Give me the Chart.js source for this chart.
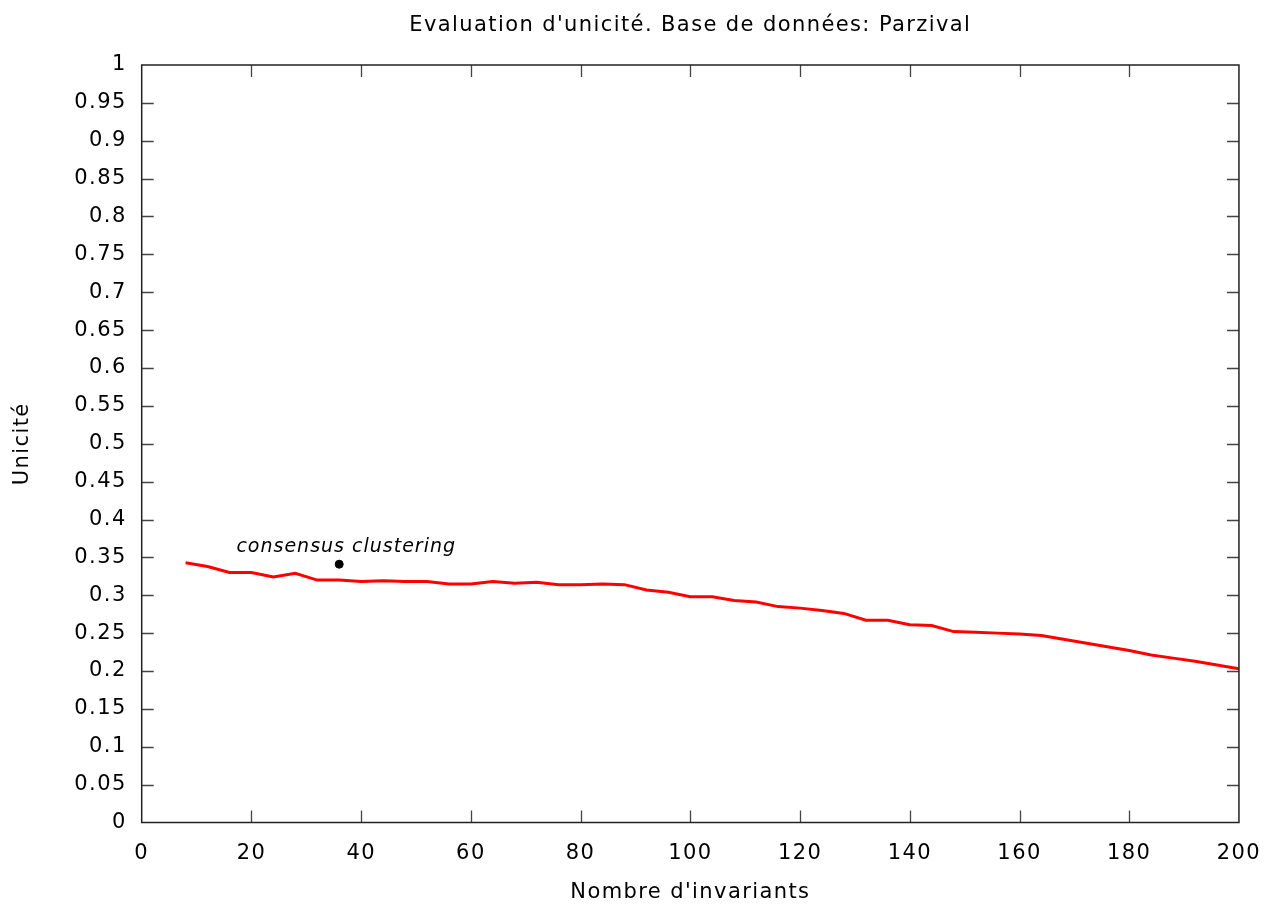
<!DOCTYPE html>
<html lang="fr">
<head>
<meta charset="UTF-8">
<title>Evaluation d'unicité</title>
<style>
  html, body { margin: 0; padding: 0; background: #fff; overflow: hidden; }
  #unicite { display: block; }
</style>
</head>
<body>
<canvas id="unicite" width="1277" height="906"></canvas>
<script src="https://cdn.jsdelivr.net/npm/chart.js"></script>
<script>
  // donnees
  var invariants = [8, 12, 16, 20, 24, 28, 32, 36, 40, 44, 48, 52, 56, 60, 64, 68, 72, 76, 80, 84, 88, 92, 96, 100,
    104, 108, 112, 116, 120, 124, 128, 132, 136, 140, 144, 148, 152, 156, 160, 164, 168, 172, 176, 180, 184, 188, 192, 196, 200];
  var unicite = [0.343, 0.338, 0.330, 0.330, 0.324, 0.329, 0.320, 0.320, 0.318, 0.319, 0.318, 0.318, 0.315, 0.315,
    0.318, 0.316, 0.317, 0.314, 0.314, 0.315, 0.314, 0.307, 0.304, 0.298, 0.298, 0.293, 0.291, 0.285, 0.283, 0.280,
    0.276, 0.267, 0.267, 0.261, 0.260, 0.252, 0.251, 0.250, 0.249, 0.247, 0.242, 0.237, 0.232, 0.227, 0.221, 0.217,
    0.213, 0.208, 0.203];
  var consensusX = [36];
  var consensusY = [0.341];
  var consensusLabel = "consensus clustering";
  var titre = "Evaluation d'unicité. Base de données: Parzival";
  var xTicks = [0, 20, 40, 60, 80, 100, 120, 140, 160, 180, 200];
  var yTicks = [0, 0.05, 0.1, 0.15, 0.2, 0.25, 0.3, 0.35, 0.4, 0.45, 0.5, 0.55, 0.6, 0.65, 0.7, 0.75, 0.8, 0.85, 0.9, 0.95, 1];

  var police = "'DejaVu Sans', Verdana, sans-serif";
  var couleurTexte = "#000";

  function points(xs, ys) {
    var res = [];
    for (var i = 0; i < xs.length; i++) res.push({ x: xs[i], y: ys[i] });
    return res;
  }

  // police plus large (approche Verdana)
  var espacement = {
    id: "espacement",
    beforeDraw: function (chart) { chart.ctx.letterSpacing = "1.4px"; }
  };

  // cadre + graduations vers l'interieur (style gnuplot), titre centre sur la zone du graphe
  var cadreGnuplot = {
    id: "cadreGnuplot",
    afterDatasetsDraw: function (chart) {
      var c = chart.ctx, a = chart.chartArea;
      var sx = chart.scales.x, sy = chart.scales.y;
      var lg = 12;
      c.save();
      c.strokeStyle = "#444";
      c.lineWidth = 1.3;
      c.beginPath();
      xTicks.forEach(function (v) {
        var px = Math.round(sx.getPixelForValue(v)) + 0.5;
        if (v === 0 || v === 200) return;
        c.moveTo(px, a.bottom); c.lineTo(px, a.bottom - lg);
        c.moveTo(px, a.top); c.lineTo(px, a.top + lg);
      });
      yTicks.forEach(function (v) {
        var py = Math.round(sy.getPixelForValue(v)) + 0.5;
        if (v === 0 || v === 1) return;
        c.moveTo(a.left, py); c.lineTo(a.left + lg, py);
        c.moveTo(a.right, py); c.lineTo(a.right - lg, py);
      });
      c.stroke();
      c.strokeStyle = "#222";
      c.lineWidth = 1.5;
      c.strokeRect(a.left, a.top, a.right - a.left, a.bottom - a.top);

      // titre
      c.fillStyle = couleurTexte;
      c.font = "21px " + police;
      c.letterSpacing = "1.4px";
      c.textAlign = "center";
      c.textBaseline = "alphabetic";
      c.fillText(titre, (a.left + a.right) / 2, 31);

      // etiquette du point
      var px0 = sx.getPixelForValue(consensusX[0]);
      var py0 = sy.getPixelForValue(consensusY[0]);
      c.font = "italic 19px " + police;
      c.letterSpacing = "1px";
      c.fillText(consensusLabel, px0 + 7, py0 - 12);
      c.restore();
    }
  };

  var ctx = document.getElementById("unicite").getContext("2d");
  var graphique = new Chart(ctx, {
    type: "line",
    data: {
      datasets: [
        {
          label: "Unicité",
          data: points(invariants, unicite),
          borderColor: "#ff0000",
          borderWidth: 3,
          pointRadius: 0,
          fill: false,
          tension: 0
        },
        {
          type: "scatter",
          label: consensusLabel,
          data: points(consensusX, consensusY),
          backgroundColor: "#000",
          borderColor: "#000",
          pointRadius: 4,
          showLine: false
        }
      ]
    },
    options: {
      responsive: false,
      animation: false,
      maintainAspectRatio: false,
      devicePixelRatio: 1,
      layout: { padding: { left: 0, right: 37, top: 65, bottom: 0 } },
      plugins: {
        legend: { display: false },
        tooltip: { enabled: false },
        title: { display: false }
      },
      scales: {
        x: {
          type: "linear",
          min: 0,
          max: 200,
          afterBuildTicks: function (s) { s.ticks = xTicks.map(function (v) { return { value: v }; }); },
          afterFit: function (s) { s.height = 83.5; },
          grid: { display: false, drawTicks: false },
          border: { display: false },
          ticks: {
            color: couleurTexte,
            padding: 18,
            maxRotation: 0,
            font: { family: police, size: 21 },
            callback: function (v) { return String(v); }
          },
          title: {
            display: true,
            text: "Nombre d'invariants",
            color: couleurTexte,
            font: { family: police, size: 21 },
            padding: { top: 0, bottom: 1 }
          }
        },
        y: {
          type: "linear",
          min: 0,
          max: 1,
          afterBuildTicks: function (s) { s.ticks = yTicks.map(function (v) { return { value: v }; }); },
          afterFit: function (s) { s.width = 141.7; },
          grid: { display: false, drawTicks: false },
          border: { display: false },
          ticks: {
            color: couleurTexte,
            padding: 15,
            font: { family: police, size: 21 },
            callback: function (v) { return String(+v.toFixed(2)); }
          },
          title: {
            display: true,
            text: "Unicité",
            color: couleurTexte,
            font: { family: police, size: 21 },
            padding: { top: 10, bottom: 0 }
          }
        }
      }
    },
    plugins: [espacement, cadreGnuplot]
  });
</script>
</body>
</html>
